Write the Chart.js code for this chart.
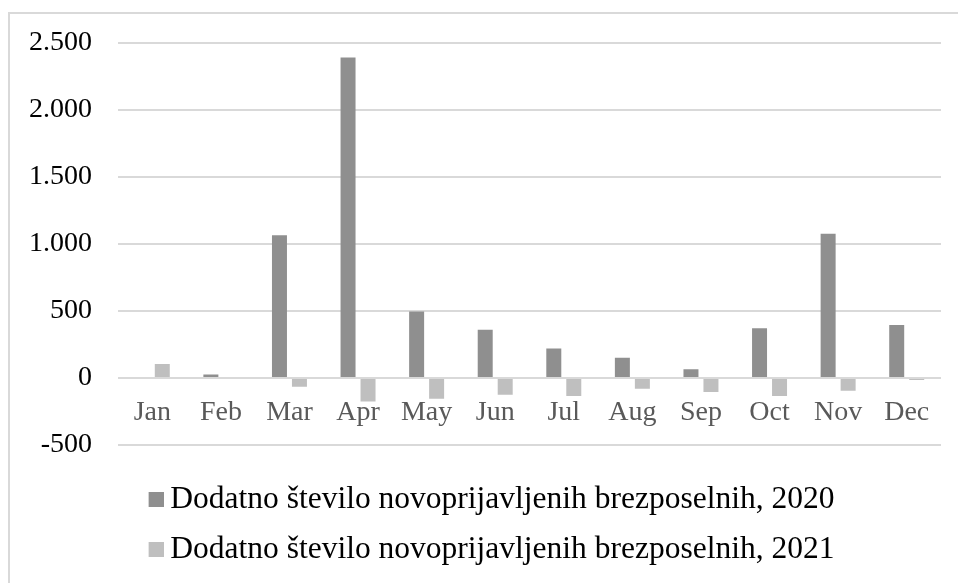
<!DOCTYPE html>
<html>
<head>
<meta charset="utf-8">
<script src="https://cdn.jsdelivr.net/npm/chart.js@4.4.1/dist/chart.umd.min.js"></script>
<style>
  html, body { margin: 0; padding: 0; background: #ffffff; }
  #wrap { position: relative; width: 958px; height: 583px; overflow: hidden; }
  #frame { position: absolute; left: 8px; top: 12px; width: 980px; height: 600px;
           border-left: 2px solid #d9d9d9; border-top: 2px solid #d9d9d9; box-sizing: border-box; }
  canvas { position: absolute; left: 0; top: 0; }
</style>
</head>
<body>
<div id="wrap">
  <div id="frame"></div>
  <canvas id="c" width="958" height="583"></canvas>
</div>
<script>
const categories = ['Jan', 'Feb', 'Mar', 'Apr', 'May', 'Jun', 'Jul', 'Aug', 'Sep', 'Oct', 'Nov', 'Dec'];
const seriesNames = ['Dodatno število novoprijavljenih brezposelnih, 2020',
                     'Dodatno število novoprijavljenih brezposelnih, 2021'];
const values2020 = [0, 25, 1065, 2390, 495, 360, 220, 150, 65, 370, 1075, 395];
const values2021 = [105, 0, -65, -175, -155, -125, -135, -80, -105, -135, -95, -15];
const yTicks = [-500, 0, 500, 1000, 1500, 2000, 2500];
const seriesColors = ['#8f8f8f', '#bfbfbf'];

const FONT = "'Liberation Serif', 'Times New Roman', serif";

function fmt(v) {
  const s = Math.abs(v).toString().replace(/\B(?=(\d{3})+(?!\d))/g, '.');
  return (v < 0 ? '-' : '') + s;
}

// legend swatch: square placed at the right side of a wider image so it sits close to the text
function swatch(color) {
  const c = document.createElement('canvas');
  c.width = 33; c.height = 15;
  const g = c.getContext('2d');
  g.fillStyle = color;
  g.fillRect(18, 0, 15, 15);
  return c;
}
const swatches = seriesColors.map(swatch);

new Chart(document.getElementById('c'), {
  type: 'bar',
  data: {
    labels: categories,
    datasets: [
      { label: seriesNames[0], data: values2020, backgroundColor: seriesColors[0], borderWidth: 0,
        categoryPercentage: 0.583, barPercentage: 0.75 },
      { label: seriesNames[1], data: values2021, backgroundColor: seriesColors[1], borderWidth: 0,
        categoryPercentage: 0.583, barPercentage: 0.75 }
    ]
  },
  options: {
    responsive: false,
    animation: false,
    devicePixelRatio: 1,
    layout: { padding: { left: 16, right: 0, top: 19, bottom: 8 } },
    plugins: {
      tooltip: { enabled: false },
      legend: {
        position: 'bottom',
        labels: {
          font: { family: FONT, size: 31.5 },
          color: '#000000',
          usePointStyle: true,
          pointStyleWidth: 15,
          boxWidth: 15,
          boxHeight: 15,
          padding: 18,
          generateLabels: (chart) =>
            Chart.defaults.plugins.legend.labels.generateLabels(chart)
              .map((l, i) => Object.assign(l, { pointStyle: swatches[i] }))
        }
      }
    },
    scales: {
      x: {
        position: { y: 0 },
        grid: { display: false },
        border: { display: false },
        ticks: { font: { family: FONT, size: 28 }, color: '#595959', padding: 10 }
      },
      xSpacer: {
        type: 'category',
        position: 'bottom',
        grid: { display: false },
        border: { display: false },
        ticks: { display: false },
        afterFit: (axis) => { axis.height = 21; }
      },
      y: {
        min: yTicks[0],
        max: yTicks[yTicks.length - 1],
        afterBuildTicks: (axis) => { axis.ticks = yTicks.map(v => ({ value: v })); },
        afterFit: (axis) => { axis.width = 102; },
        grid: { color: '#d9d9d9', lineWidth: 2, drawTicks: false },
        border: { display: false },
        ticks: {
          font: { family: FONT, size: 28 },
          color: '#000000',
          padding: 26,
          callback: (v) => fmt(v)
        }
      },
      ySpacer: {
        type: 'linear',
        position: 'right',
        grid: { display: false },
        border: { display: false },
        ticks: { display: false },
        afterFit: (axis) => { axis.width = 17; }
      }
    }
  }
});
</script>
</body>
</html>
